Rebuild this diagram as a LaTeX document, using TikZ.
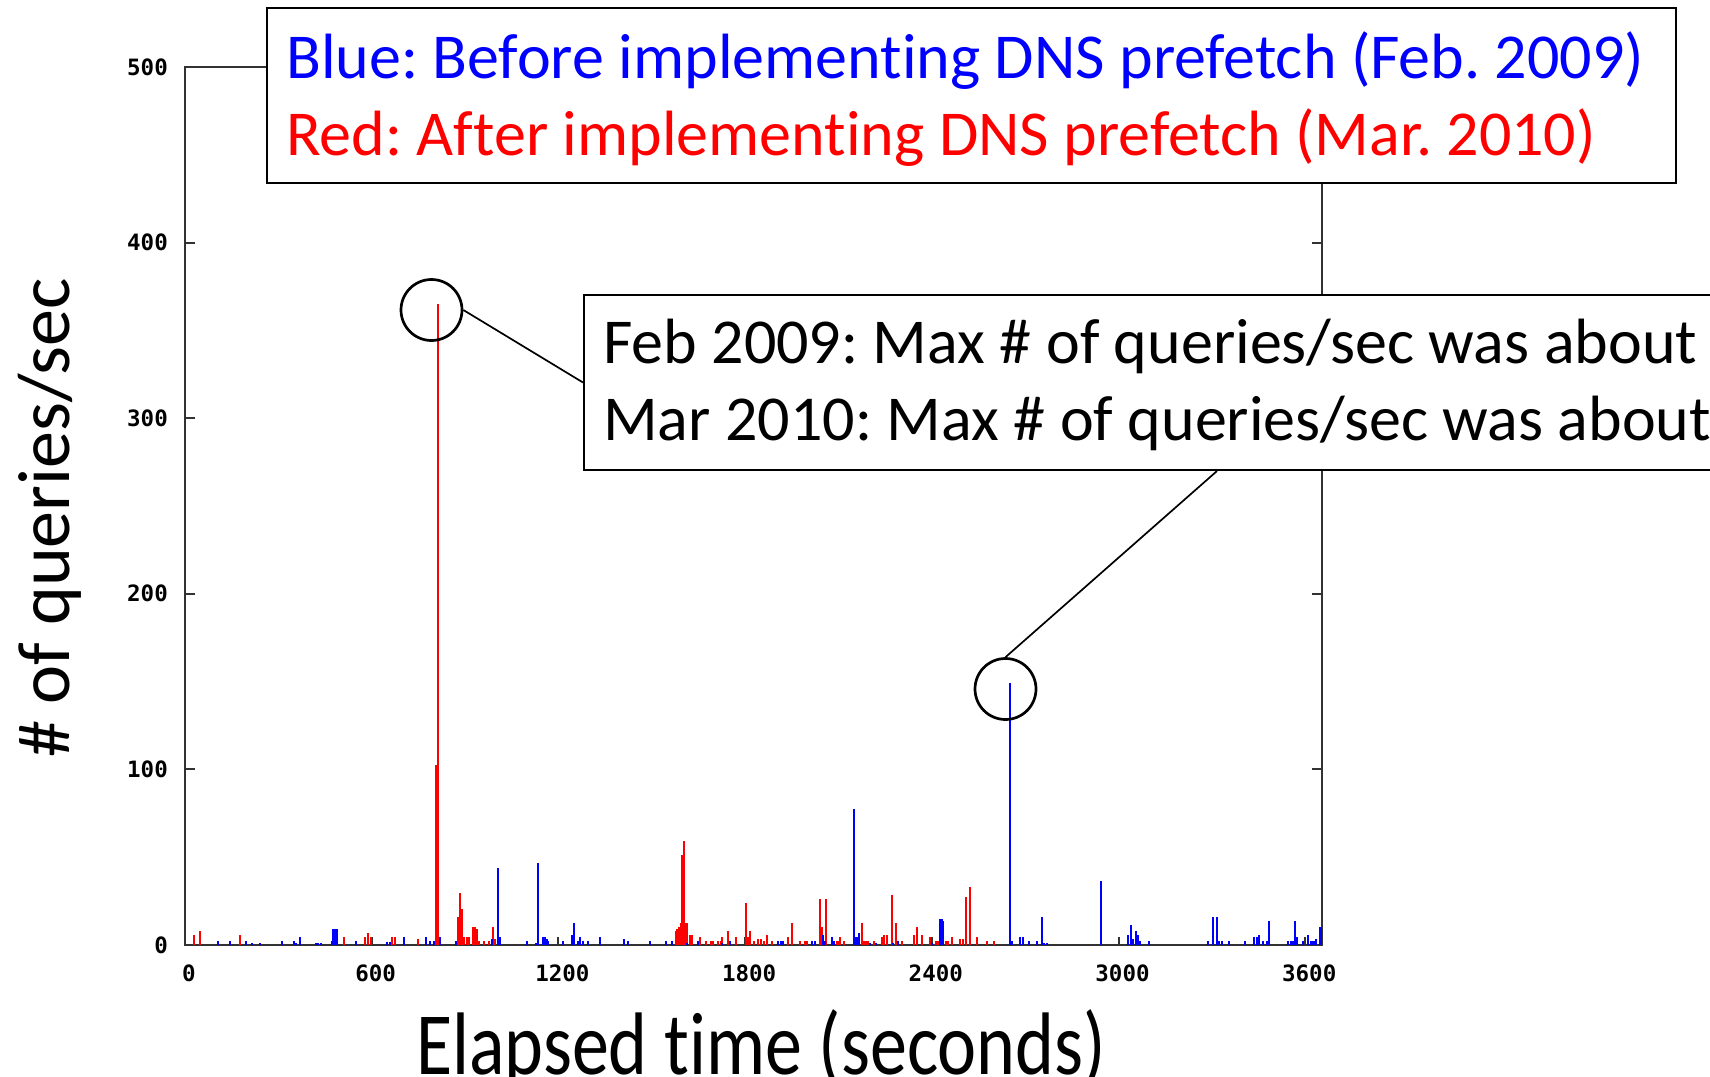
\documentclass[tikz,border=0pt]{standalone}
\usepackage{fontspec}
\setmainfont{Carlito}[Ligatures=NoCommon]
\newfontfamily\tickfont{DejaVu Sans Mono Bold}
\definecolor{axisgray}{RGB}{50,50,50}
\definecolor{plotred}{RGB}{255,0,0}
\definecolor{plotblue}{RGB}{0,0,255}
\frenchspacing
\begin{document}
\begin{tikzpicture}[x=1pt,y=-1pt,
  frame/.style={draw=axisgray, line width=2pt},
  tickmark/.style={draw=axisgray, line width=2pt},
  redbar/.style={draw=plotred, line width=2.2pt},
  bluebar/.style={draw=plotblue, line width=2.2pt},
  ticklabel/.style={font=\tickfont\fontsize{22.5}{22.5}\selectfont, inner sep=0pt},
  box/.style={draw=black, line width=2pt, fill=white, inner sep=0pt, anchor=north west},
  boxtext/.style={font=\fontsize{64}{77}\selectfont, inner sep=0pt, anchor=base west},
  axislabel/.style={font=\fontsize{74}{80}\selectfont, inner sep=0pt, anchor=base},
  marker/.style={circle, draw=black, line width=2.7pt, minimum size=61pt, inner sep=0pt},
  connector/.style={draw=black, line width=1.7pt}
]
\useasboundingbox (0,0) rectangle (1710,1076);
\clip (0,0) rectangle (1710,1076);
\fill[white] (0,0) rectangle (1710,1076);

% plot frame
\draw[frame] (185,67) rectangle (1322,945);
% ticks
\foreach \k in {0,...,6} {
  \draw[tickmark] ({185+\k*186.7},945) -- ++(0,-8);
  \draw[tickmark] ({185+\k*186.7},67) -- ++(0,8);
}
\foreach \k in {0,...,5} {
  \draw[tickmark] (185,{945-\k*175.6}) -- ++(10,0);
  \draw[tickmark] (1322,{945-\k*175.6}) -- ++(-10,0);
}
% tick labels
\foreach \i/\v in {0/0,1/100,2/200,3/300,4/400,5/500}
  \node[ticklabel, anchor=east] (yt\i) at (168,{945-\i*175.6}) {\v};
\foreach \i/\v in {0/0,1/600,2/1200,3/1800,4/2400,5/3000,6/3600}
  \node[ticklabel] (xt\i) at ({189+\i*186.7},973) {\v};

% red bars
\foreach \x/\h in {194/10,200/14,240/10,344/8,365.3/8,367.7/12,370.7/8,391.7/8,395/8,418/6,
  435.7/180,438/641,458.3/28,460/52,462.3/36,464.3/8,466.7/8,469.3/8,472.7/18,475/18,476.7/16,478.7/4,
  484/4,489.3/4,493.3/18,495.3/6,
  675.7/14,677.3/16,679/18,680.7/22,682.3/90,684/104,685.7/22,686.7/22,690/10,692.3/10,700/8,706/4,
  710.7/4,712.7/4,718.3/4,720.7/4,722.3/8,727.7/14,736/8,746/42,747.7/8,750/14,754/4,758.3/6,761/6,
  764/4,766.7/10,772.3/4,788.3/8,792.3/22,800/4,805/4,806.7/4,820/46,822/18,826/46,836.7/4,838.3/4,
  840/8,844.3/4,862/22,864/4,865.7/4,868.3/4,874/4,882/8,884/10,886.7/10,892.3/50,896/22,902.3/4,
  914/10,916.7/18,922.3/10,930/8,936/4,938.3/4,
  946/4,948.3/4,952.3/8,960/6,962.7/6,966/48,970.3/58,976.7/8,986.7/4,994.3/4}
  \draw[redbar] (\x,945) -- ++(0,-\h);

% blue bars
\foreach \x/\h in {217.7/4,230/4,246/4,251.7/2,260/2,282.3/4,294/4,296.3/2,300/8,316/2,318.3/2,320.7/2,
  331.7/4,333.3/16,335.3/16,336.7/16,356/4,387.3/3,390/3,404/8,426.3/8,430/4,434/4,440/8,456/4,
  491.7/6,498.3/77,500.3/8,526.7/4,536/2,538.3/82,543.3/8,545.3/8,546.7/6,548.3/4,563.3/4,
  572.3/10,574.3/22,578.3/4,580.3/8,582.7/4,588.3/4,600/8,624/6,628.3/4,650/4,666/4,672.3/4,687/2,698.3/4,
  722.3/2,730/4,778.3/4,780.7/4,782.7/4,812.3/4,815/4,822.7/10,824.7/4,832.3/8,834.3/4,
  854/136,855.7/8,857.3/8,859/12,870.3/2,876/2,893.3/2,898.3/4,931.7/2,940/26,942/26,943.3/24,
  1010.3/262,1011.7/4,1020/8,1022.7/8,1028.7/4,1036.7/4,1042.3/28,1044.3/2,1046.7/2,1100.7/64,
  1128.3/10,1130.7/20,1132.7/6,1136.3/14,1138.3/10,1140.3/4,1148.7/4,1208.3/4,1212.7/28,1216.7/28,
  1218.7/4,1221.7/4,1228.7/4,1245/4,1254.3/8,1256.7/8,1259.3/10,1262.7/4,1266.7/4,1269/24,
  1288.3/4,1290.7/4,1293.3/4,1294.7/24,1296.7/8,1303.3/4,1308.3/10,1310.7/4,1312.7/4,1314/4,1315.7/6,1320.5/18}
  \draw[bluebar] (\x,945) -- ++(0,-\h);

% axis labels
\node[axislabel, rotate=90] (ylab) at (69,518) {\# of queries/sec};
\node[axislabel, yscale=1.2] (xlab) at (761,1074) {Elapsed time (seconds)};

% legend box
\node[box, minimum width=1409pt, minimum height=175pt] (leg) at (266,7) {};
\node[boxtext, text=plotblue] (leg1) at (286,78) {Blue: Before implementing DNS prefetch (Feb. 2009)};
\node[boxtext, text=plotred] (leg2) at (286,155) {Red: After implementing DNS prefetch (Mar. 2010)};

% annotation box
\node[box, minimum width=1266pt, minimum height=175pt] (ann) at (583,294) {};
\node[boxtext] (ann1) at (603,363) {Feb 2009: Max \# of queries/sec was about};
\node[boxtext] (ann2) at (603,440) {Mar 2010: Max \# of queries/sec was about};

% markers and connectors
\node[marker] (c1) at (431.5,310) {};
\node[marker] (c2) at (1005.5,689) {};
\draw[connector] (c1.east) -- (ann.west);
\draw[connector] (c2.north) -- (ann.south);
\end{tikzpicture}
\end{document}
